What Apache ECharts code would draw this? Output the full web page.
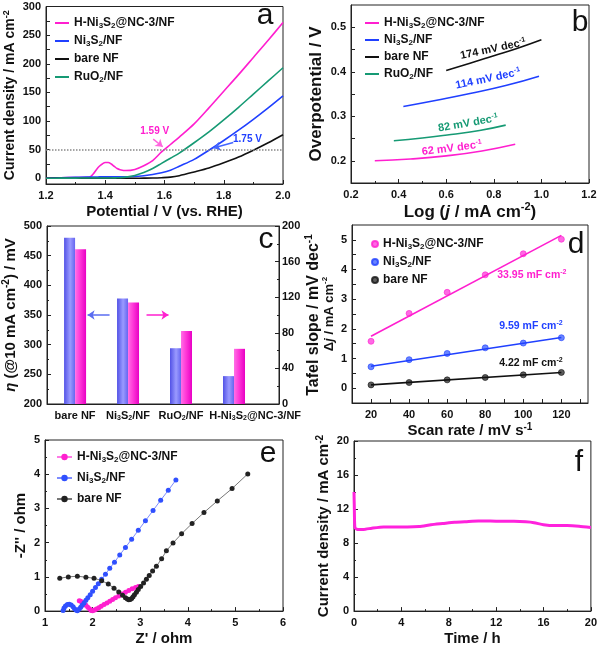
<!DOCTYPE html>
<html><head><meta charset="utf-8">
<script src="https://cdn.jsdelivr.net/npm/echarts@6/dist/echarts.min.js"></script>
<style>html,body{margin:0;padding:0;background:#fff}#c{width:600px;height:649px}</style>
</head><body><div id="c"></div>
<script>
// ===== data =====
// (a) LSV curves
const aPotential=[1.20,1.25,1.30,1.34,1.35,1.36,1.37,1.38,1.39,1.40,1.41,1.42,1.43,1.44,1.45,1.47,1.50,1.53,1.56,1.59,1.62,1.65,1.70,1.75,1.80,1.85,1.90,1.95,2.00];
const aH=[0.5,1,1.2,1.5,3,8,15,21,25,27.5,27.5,25,21,17,15,13.5,15.5,22,31,46,59,72,95,123,152,181,211,241,272];
const aNi=[0,0.8,1.5,2,2,2.2,2.3,2.4,2.5,2.5,2.5,2.5,2.5,2.5,2.5,2.6,3,4.5,6.5,9.5,14,21,33,49,66,84,103,123,144];
const aBare=[0,0,0,0,0,0,0,0,0,0,0,0,0,0,0,0,0.1,0.2,0.4,1,2,4.5,11,18,27,37,49,62,76];
const aRu=[0,0.2,0.3,0.4,0.4,0.4,0.4,0.5,0.5,0.5,0.6,0.6,0.7,0.8,1,2,5,10,17,26,35,44,62,81,102,124,147,170,193];
const aRefCurrent=50;
// (b) Tafel plots [log j, overpotential]
const bH=[[0.30,0.200],[0.45,0.204],[0.60,0.211],[0.75,0.222],[0.89,0.237]];
const bRu=[[0.38,0.245],[0.50,0.251],[0.62,0.259],[0.74,0.268],[0.85,0.280]];
const bNi=[[0.42,0.322],[0.56,0.336],[0.70,0.351],[0.85,0.369],[0.99,0.390]];
const bBare=[[0.60,0.403],[0.70,0.419],[0.80,0.436],[0.90,0.453],[1.00,0.472]];
const bSlopes=['174','114','82','62'];
// (c) bars
const cCategories=['bare NF','Ni{sub|3}S{sub|2}/NF','RuO{sub|2}/NF','H-Ni{sub|3}S{sub|2}@NC-3/NF'];
const cOverpotential=[480,378,294,247];
const cTafel=[174,114,82,62];
// (d) double-layer capacitance
const dScan=[20,40,60,80,100,120];
const dH=[1.58,2.52,3.23,3.82,4.53,5.02];
const dNi=[0.72,0.96,1.17,1.36,1.52,1.70];
const dBare=[0.11,0.19,0.28,0.36,0.45,0.53];
const dFitX=[20,120];
const dFitH=[1.75,5.15];
const dFitNi=[0.74,1.71];
const dFitBare=[0.11,0.53];
const dCdl=['33.95','9.59','4.22'];
// (e) Nyquist [Z', -Z'']
const eH=[[1.72,0.30],[1.75,0.29],[1.78,0.26],[1.82,0.22],[1.86,0.17],[1.90,0.11],[1.94,0.06],[1.97,0.02],[2.00,0.01],[2.04,0.03],[2.08,0.06],[2.13,0.10],[2.18,0.14],[2.24,0.19],[2.30,0.24],[2.36,0.29],[2.42,0.34],[2.48,0.39],[2.55,0.44],[2.62,0.50],[2.69,0.55],[2.76,0.60],[2.83,0.65],[2.90,0.69],[2.96,0.72]];
const eNi=[[1.38,0.02],[1.40,0.09],[1.43,0.15],[1.47,0.19],[1.51,0.20],[1.55,0.18],[1.59,0.13],[1.62,0.07],[1.65,0.03],[1.68,0.01],[1.72,0.06],[1.75,0.11],[1.78,0.17],[1.82,0.24],[1.86,0.32],[1.90,0.39],[1.95,0.48],[2.00,0.58],[2.06,0.69],[2.12,0.80],[2.19,0.93],[2.27,1.08],[2.36,1.25],[2.46,1.43],[2.57,1.64],[2.69,1.86],[2.82,2.10],[2.96,2.36],[3.11,2.64],[3.27,2.94],[3.43,3.24],[3.59,3.53],[3.75,3.83]];
const eBare=[[1.31,0.96],[1.49,1.00],[1.68,1.02],[1.86,0.99],[2.03,0.96],[2.19,0.89],[2.33,0.79],[2.45,0.67],[2.55,0.56],[2.63,0.46],[2.69,0.39],[2.73,0.35],[2.76,0.33],[2.79,0.34],[2.82,0.37],[2.85,0.42],[2.88,0.48],[2.92,0.55],[2.96,0.63],[3.01,0.72],[3.07,0.82],[3.13,0.93],[3.19,1.04],[3.26,1.17],[3.34,1.31],[3.45,1.53],[3.55,1.76],[3.69,1.99],[3.87,2.26],[4.09,2.56],[4.34,2.88],[4.62,3.22],[4.93,3.58],[5.26,4.01]];
// (f) chronoamperometry [time h, j]
const fData=[[0,14.0],[0.03,12],[0.08,9.8],[0.3,9.6],[0.8,9.6],[1.5,9.75],[2.5,9.9],[3.5,9.9],[4.5,9.9],[5.5,9.95],[6.5,10.15],[7.5,10.3],[8.5,10.45],[9.5,10.52],[10.5,10.58],[11.5,10.58],[12.5,10.55],[13.5,10.55],[14.5,10.5],[15.2,10.4],[16,10.15],[17,10.05],[18,10.05],[19,9.98],[20,9.83]];
// tick labels
const aYTicks=[0,50,100,150,200,250,300];
const bYTicks=[0.2,0.3,0.4,0.5];
const dXTicks=[20,40,60,80,100,120];
const dYTicks=[0,1,2,3,4,5];

// ===== style =====
const FONT='"Liberation Sans", Arial, Helvetica, sans-serif';
const MAG='#ff1fcf', BLU='#2040ff', GRN='#169a74', BLK='#111111';
const LBL={H:'H-Ni{sub|3}S{sub|2}@NC-3/NF',Ni:'Ni{sub|3}S{sub|2}/NF',bare:'bare NF',Ru:'RuO{sub|2}/NF'};
function R(fs){const s=Math.round(fs*0.65);return{
  sub:{fontSize:s,lineHeight:s,verticalAlign:'bottom',fontWeight:'bold',fontFamily:FONT},
  sup:{fontSize:s,lineHeight:s,verticalAlign:'top',fontWeight:'bold',fontFamily:FONT},
  it:{fontSize:fs,fontStyle:'italic',fontWeight:'bold',fontFamily:FONT}};}
function txt(fs,color){return{fontSize:fs,fontWeight:'bold',fontFamily:FONT,color:color||BLK,lineHeight:Math.round(fs*1.2),rich:R(fs)};}
function axis(gi,o){
  const a={type:'value',gridIndex:gi,min:o.min,max:o.max,position:o.pos,
    name:o.name,nameLocation:'middle',nameGap:o.gap,nameTextStyle:txt(o.nameSize||15),
    axisLine:{show:true,onZero:false,lineStyle:{color:'#222',width:1}},
    axisTick:{show:o.noTick?false:true,inside:true,length:4,lineStyle:{color:'#222'}},
    minorTick:{show:!!o.minor,splitNumber:2,length:2,lineStyle:{color:'#222'}},
    splitLine:{show:false},
    axisLabel:Object.assign({margin:o.margin||5},txt(11))};
  if(o.interval!=null)a.interval=o.interval;
  if(o.labels)a.axisLabel.customValues=o.labels;
  if(o.ticks)a.axisTick.customValues=o.ticks;
  if(o.fmt)a.axisLabel.formatter=o.fmt;
  return a;
}
function grid(l,t,w,h){return{left:l,top:t,width:w,height:h,show:true,borderColor:'#222',borderWidth:1,containLabel:false};}
function lab(coord,text,color,fs,rot){return{coord:coord,symbol:'circle',symbolSize:1,itemStyle:{color:'rgba(0,0,0,0)'},
  label:Object.assign({show:true,position:'inside',rotate:rot||0,formatter:()=>text},txt(fs,color))};}
function arrow(from,to,color){return{silent:true,symbol:['none','arrow'],symbolSize:7,label:{show:false},
  lineStyle:{color:color,width:1.5,type:'solid'},data:[[{coord:from},{coord:to}]]};}
const legFmt=n=>LBL[n.split(':')[1]];
const f1=v=>v.toFixed(1);
const zip=(xs,ys)=>xs.map((x,i)=>[x,ys[i]]);

const chart=echarts.init(document.getElementById('c'),null,{renderer:'canvas'});
const option={
  animation:false,
  backgroundColor:'#fff',
  textStyle:{fontFamily:FONT},
  grid:[grid(46,5,237,179),grid(351,5,238,178),grid(47,226,232,178),grid(352,225,236,178),grid(45,440,238,177),grid(354,441,239,178)],
  xAxis:[
    axis(0,{min:1.2,max:2.0,interval:0.2,minor:true,fmt:f1,name:'Potential / V (vs. RHE)',gap:16,nameSize:15}),
    axis(1,{min:0.2,max:1.2,interval:0.2,minor:true,fmt:f1,name:'Log ({it|j} / mA cm{sup|-2})',gap:15,nameSize:17}),
    axis(2,{min:0.47,max:4.85,labels:[1,2,3,4.4],noTick:true,fmt:v=>cCategories[Math.round(v)-1]}),
    axis(3,{min:10,max:134,labels:dXTicks,ticks:[20,30,40,50,60,70,80,90,100,110,120,130],name:'Scan rate / mV s{sup|-1}',gap:17,nameSize:15}),
    axis(4,{min:1,max:6,interval:1,minor:true,name:"Z' / ohm",gap:15,nameSize:15}),
    axis(5,{min:0,max:20,interval:4,minor:true,name:'Time / h',gap:14,nameSize:15})
  ],
  yAxis:[
    axis(0,{min:-10,max:300,labels:aYTicks,ticks:[0,25,50,75,100,125,150,175,200,225,250,275,300],name:'Current density / mA cm{sup|-2}',gap:25,nameSize:14}),
    axis(1,{min:0.15,max:0.55,labels:bYTicks,ticks:[0.2,0.25,0.3,0.35,0.4,0.45,0.5],fmt:f1,name:'Overpotential / V',gap:20,nameSize:17}),
    axis(2,{min:200,max:500,interval:50,minor:true,name:'{it|η} (@10 mA cm{sup|-2}) / mV',gap:26,nameSize:15}),
    axis(2,{min:0,max:200,interval:40,minor:true,pos:'right',name:'Tafel slope / mV dec{sup|-1}',gap:22,nameSize:16,margin:3}),
    axis(3,{min:-0.5,max:5.5,labels:dYTicks,ticks:[0,0.5,1,1.5,2,2.5,3,3.5,4,4.5,5],name:'Δ{it|j} / mA cm{sup|-2}',gap:11,nameSize:13}),
    axis(4,{min:0,max:5,interval:1,minor:true,name:"-Z'' / ohm",gap:15,nameSize:15}),
    axis(5,{min:0,max:20,interval:4,minor:true,name:'Current density / mA cm{sup|-2}',gap:13,nameSize:15})
  ],
  legend:[
    {data:['a:H','a:Ni','a:bare','a:Ru'],left:50,top:11,orient:'vertical',icon:'rect',itemWidth:14,itemHeight:2,itemGap:4,formatter:legFmt,textStyle:txt(12),selectedMode:false},
    {data:['b:H','b:Ni','b:bare','b:Ru'],left:360,top:11,orient:'vertical',icon:'rect',itemWidth:14,itemHeight:2,itemGap:3,formatter:legFmt,textStyle:txt(12),selectedMode:false},
    {data:['d:H','d:Ni','d:bare'],left:366,top:232,orient:'vertical',itemWidth:6,itemHeight:6,itemGap:4,formatter:legFmt,textStyle:txt(12),selectedMode:false},
    {data:['e:H','e:Ni','e:bare'],left:51,top:445,orient:'vertical',itemWidth:15,itemHeight:8,itemGap:7,formatter:legFmt,textStyle:txt(12),selectedMode:false}
  ],
  series:[
    // (a)
    {type:'line',name:'a:H',xAxisIndex:0,yAxisIndex:0,data:zip(aPotential,aH),symbol:'none',smooth:0.3,lineStyle:{color:MAG,width:1.6},itemStyle:{color:MAG},
      markLine:arrow([1.562,68.4],[1.594,55],'#ff66dd'),markPoint:{data:[lab([1.567,83],'1.59 V',MAG,10)]}},
    {type:'line',name:'a:Ni',xAxisIndex:0,yAxisIndex:0,data:zip(aPotential,aNi),symbol:'none',smooth:0.3,lineStyle:{color:BLU,width:1.6},itemStyle:{color:BLU},
      markLine:arrow([1.832,62.5],[1.765,52.8],'#4466ff'),markPoint:{data:[lab([1.88,68.4],'1.75 V',BLU,10)]}},
    {type:'line',name:'a:bare',xAxisIndex:0,yAxisIndex:0,data:zip(aPotential,aBare),symbol:'none',smooth:0.3,lineStyle:{color:BLK,width:1.6},itemStyle:{color:BLK},
      markLine:{silent:true,symbol:'none',label:{show:false},lineStyle:{color:'#888',type:'dotted',width:1.5},data:[{yAxis:aRefCurrent}]}},
    {type:'line',name:'a:Ru',xAxisIndex:0,yAxisIndex:0,data:zip(aPotential,aRu),symbol:'none',smooth:0.3,lineStyle:{color:GRN,width:1.6},itemStyle:{color:GRN}},
    // (b)
    {type:'line',name:'b:H',xAxisIndex:1,yAxisIndex:1,data:bH,symbol:'none',smooth:true,lineStyle:{color:MAG,width:1.6},itemStyle:{color:MAG},
      markPoint:{data:[lab([0.624,0.228],bSlopes[3]+' mV dec{sup|-1}',MAG,11,7)]}},
    {type:'line',name:'b:Ni',xAxisIndex:1,yAxisIndex:1,data:bNi,symbol:'none',smooth:true,lineStyle:{color:BLU,width:1.6},itemStyle:{color:BLU},
      markPoint:{data:[lab([0.776,0.384],bSlopes[1]+' mV dec{sup|-1}',BLU,11,12)]}},
    {type:'line',name:'b:bare',xAxisIndex:1,yAxisIndex:1,data:bBare,symbol:'none',smooth:true,lineStyle:{color:BLK,width:1.6},itemStyle:{color:BLK},
      markPoint:{data:[lab([0.797,0.451],bSlopes[0]+' mV dec{sup|-1}',BLK,11,12)]}},
    {type:'line',name:'b:Ru',xAxisIndex:1,yAxisIndex:1,data:bRu,symbol:'none',smooth:true,lineStyle:{color:GRN,width:1.6},itemStyle:{color:GRN},
      markPoint:{data:[lab([0.692,0.284],bSlopes[2]+' mV dec{sup|-1}',GRN,11,10)]}},
    // (c)
    {type:'bar',name:'c:eta',xAxisIndex:2,yAxisIndex:2,data:cOverpotential.map((v,i)=>[i+1,v]),barWidth:11,barGap:'0%',clip:true,
      itemStyle:{color:{type:'linear',x:0,y:0,x2:1,y2:0,colorStops:[{offset:0,color:'#5252e6'},{offset:0.55,color:'#9a9aff'},{offset:1,color:'#6666f0'}]}},
      markLine:arrow([1.755,350],[1.34,350],'#5a6cf0')},
    {type:'bar',name:'c:tafel',xAxisIndex:2,yAxisIndex:3,data:cTafel.map((v,i)=>[i+1,v]),barWidth:11,barGap:'0%',clip:true,
      itemStyle:{color:{type:'linear',x:0,y:0,x2:1,y2:0,colorStops:[{offset:0,color:'#ff70e6'},{offset:0.45,color:'#ff38d8'},{offset:1,color:'#e800c4'}]}},
      markLine:arrow([2.245,100],[2.66,100],MAG)},
    // (d)
    {type:'line',name:'dfit:H',xAxisIndex:3,yAxisIndex:4,data:zip(dFitX,dFitH),symbol:'none',lineStyle:{color:MAG,width:1.6}},
    {type:'line',name:'dfit:Ni',xAxisIndex:3,yAxisIndex:4,data:zip(dFitX,dFitNi),symbol:'none',lineStyle:{color:BLU,width:1.6}},
    {type:'line',name:'dfit:bare',xAxisIndex:3,yAxisIndex:4,data:zip(dFitX,dFitBare),symbol:'none',lineStyle:{color:BLK,width:1.6}},
    {type:'scatter',name:'d:H',xAxisIndex:3,yAxisIndex:4,data:zip(dScan,dH),symbolSize:6,itemStyle:{color:'#ff44dd',borderColor:MAG,borderWidth:0.8},
      markPoint:{data:[lab([104.5,3.81],dCdl[0]+' mF cm{sup|-2}',MAG,10.5)]}},
    {type:'scatter',name:'d:Ni',xAxisIndex:3,yAxisIndex:4,data:zip(dScan,dNi),symbolSize:6,itemStyle:{color:'#4466ff',borderColor:BLU,borderWidth:0.8},
      markPoint:{data:[lab([104,2.08],dCdl[1]+' mF cm{sup|-2}',BLU,10.5)]}},
    {type:'scatter',name:'d:bare',xAxisIndex:3,yAxisIndex:4,data:zip(dScan,dBare),symbolSize:6,itemStyle:{color:'#333',borderColor:BLK,borderWidth:0.8},
      markPoint:{data:[lab([104,0.86],dCdl[2]+' mF cm{sup|-2}',BLK,10.5)]}},
    // (e)
    {type:'line',name:'e:H',xAxisIndex:4,yAxisIndex:5,data:eH,symbol:'circle',symbolSize:5,showSymbol:true,lineStyle:{color:'#ff7ae6',width:1},itemStyle:{color:MAG}},
    {type:'line',name:'e:Ni',xAxisIndex:4,yAxisIndex:5,data:eNi,symbol:'circle',symbolSize:5,showSymbol:true,lineStyle:{color:'#7d8cff',width:1},itemStyle:{color:'#3050ff'}},
    {type:'line',name:'e:bare',xAxisIndex:4,yAxisIndex:5,data:eBare,symbol:'circle',symbolSize:5,showSymbol:true,lineStyle:{color:'#777',width:1},itemStyle:{color:'#222'}},
    // (f)
    {type:'line',name:'f:j',xAxisIndex:5,yAxisIndex:6,data:fData,symbol:'none',smooth:0.2,lineStyle:{color:'#ff22dd',width:3}}
  ],
  graphic:[
    ['a',265,16],['b',580,23],['c',266,240],['d',576,245],['e',268,454],['f',579,463]
  ].map(p=>({type:'text',x:p[1],y:p[2],silent:true,style:{text:p[0],fontSize:30,fontFamily:FONT,fill:'#111',align:'center',verticalAlign:'middle'}}))
};
chart.setOption(option);
</script></body></html>
